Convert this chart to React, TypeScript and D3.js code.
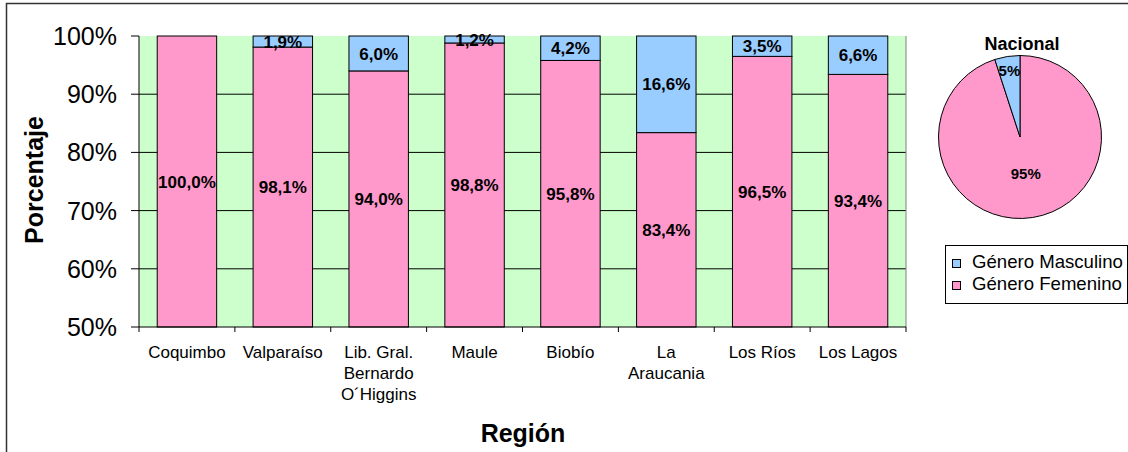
import React from "react";
import * as d3 from "d3";

const categories = [
  "Coquimbo",
  "Valparaíso",
  "Lib. Gral.\nBernardo\nO´Higgins",
  "Maule",
  "Biobío",
  "La\nAraucania",
  "Los Ríos",
  "Los Lagos",
];
const femenino = [100.0, 98.1, 94.0, 98.8, 95.8, 83.4, 96.5, 93.4];
const masculino = [0, 1.9, 6.0, 1.2, 4.2, 16.6, 3.5, 6.6];
const yTicks = [50, 60, 70, 80, 90, 100];
const pieLabels = ["Género Femenino", "Género Masculino"];
const pieValues = [95, 5];
const legendItems = ["Género Masculino", "Género Femenino"];

const PINK = "#FF99CC";
const BLUE = "#99CCFF";
const GREEN = "#CCFFCC";
const FONT = "Arial, 'Liberation Sans', sans-serif";

const fmt = (v: number) => v.toFixed(1).replace(".", ",") + "%";

export default function App() {
  const W = 1128, H = 452;
  const left = 139, right = 906, top = 36, bottom = 327;
  const x = d3.scaleBand<number>()
    .domain(d3.range(categories.length))
    .range([left, right])
    .paddingInner(0.38)
    .paddingOuter(0.19);
  const y = d3.scaleLinear().domain([50, 100]).range([bottom, top]);
  const step = (right - left) / categories.length;
  const clampY = (v: number) => y(Math.max(50, Math.min(100, v)));

  const cx = 1020, cy = 137, r = 81.5;
  const pie = d3.pie<number>().sort(null).value((d) => d);
  const arcs = pie(pieValues);
  const arc = d3.arc<d3.PieArcDatum<number>>().innerRadius(0).outerRadius(r);
  const labelR = [0.45 * r, 0.83 * r];

  return (
    <svg width={W} height={H} style={{ position: "absolute", left: 0, top: 0 }} fontFamily={FONT}>
      <rect x={0} y={0} width={W} height={H} fill="#fff" />
      <rect x={6.5} y={3.5} width={W + 10} height={H + 10} fill="none" stroke="#333" strokeWidth={1.5} />

      {/* plot area */}
      <rect x={left} y={top} width={right - left} height={bottom - top} fill={GREEN} />
      {yTicks.slice(1, -1).map((t) => (
        <line key={t} x1={left} x2={right} y1={y(t)} y2={y(t)} stroke="#000" strokeWidth={1} />
      ))}
      <line x1={right} x2={right} y1={top} y2={bottom} stroke="#808080" strokeWidth={1} />

      {/* bars */}
      {categories.map((c, i) => {
        const bx = x(i)!;
        const bw = x.bandwidth();
        const fTop = clampY(femenino[i]);
        const mTop = clampY(femenino[i] + masculino[i]);
        return (
          <g key={c}>
            <rect x={bx} y={fTop} width={bw} height={bottom - fTop} fill={PINK} stroke="#000" strokeWidth={1} />
            {masculino[i] > 0 && (
              <rect x={bx} y={mTop} width={bw} height={fTop - mTop} fill={BLUE} stroke="#000" strokeWidth={1} />
            )}
          </g>
        );
      })}
      {categories.map((c, i) => {
        const cxb = x(i)! + x.bandwidth() / 2;
        const fTop = clampY(femenino[i]);
        const mTop = clampY(femenino[i] + masculino[i]);
        return (
          <g key={c + "l"} fontWeight="bold" fontSize={17} textAnchor="middle" fill="#000">
            <text x={cxb} y={(fTop + bottom) / 2} dy="0.36em">{fmt(femenino[i])}</text>
            {masculino[i] > 0 && (
              <text x={cxb} y={(fTop + mTop) / 2} dy="0.36em">{fmt(masculino[i])}</text>
            )}
          </g>
        );
      })}

      {/* axes */}
      <line x1={left} x2={left} y1={top} y2={bottom} stroke="#000" strokeWidth={1} />
      <line x1={left} x2={right} y1={bottom} y2={bottom} stroke="#000" strokeWidth={1} />
      {yTicks.map((t) => (
        <g key={t}>
          <line x1={left - 8} x2={left} y1={y(t)} y2={y(t)} stroke="#000" />
          <text x={117} y={y(t)} dy="0.36em" textAnchor="end" fontSize={25} fill="#000">{t}%</text>
        </g>
      ))}
      {d3.range(categories.length + 1).map((i) => (
        <line key={i} x1={left + i * step} x2={left + i * step} y1={bottom} y2={bottom + 5} stroke="#000" />
      ))}
      {categories.map((c, i) => (
        <text key={c} x={x(i)! + x.bandwidth() / 2} y={358} textAnchor="middle" fontSize={17} fill="#000">
          {c.split("\n").map((ln, k) => (
            <tspan key={k} x={x(i)! + x.bandwidth() / 2} dy={k === 0 ? 0 : 21}>{ln}</tspan>
          ))}
        </text>
      ))}
      <text x={523} y={442} textAnchor="middle" fontSize={25} fontWeight="bold">Región</text>
      <text transform={`translate(43,180) rotate(-90)`} textAnchor="middle" fontSize={25} fontWeight="bold">Porcentaje</text>

      {/* pie */}
      <text x={1022} y={50} textAnchor="middle" fontSize={18} fontWeight="bold">Nacional</text>
      <g transform={`translate(${cx},${cy})`}>
        {arcs.map((a, i) => (
          <path key={i} d={arc(a)!} fill={i === 0 ? PINK : BLUE} stroke="#000" strokeWidth={1} />
        ))}
        {arcs.map((a, i) => {
          const mid = (a.startAngle + a.endAngle) / 2;
          const lr = labelR[i];
          return (
            <text key={pieLabels[i]} x={Math.sin(mid) * lr} y={-Math.cos(mid) * lr} dy="0.36em"
              textAnchor="middle" fontSize={15} fontWeight="bold">
              {Math.round(a.value) + "%"}
            </text>
          );
        })}
      </g>

      {/* legend */}
      <rect x={945.5} y={245.5} width={182} height={58} fill="#fff" stroke="#000" strokeWidth={1} />
      {legendItems.map((l, i) => (
        <g key={l}>
          <rect x={952.5} y={259.5 + i * 22} width={8} height={8} fill={i === 0 ? BLUE : PINK} stroke="#000" />
          <text x={972} y={267.5 + i * 22} fontSize={18.6} fill="#000">{l}</text>
        </g>
      ))}
    </svg>
  );
}
